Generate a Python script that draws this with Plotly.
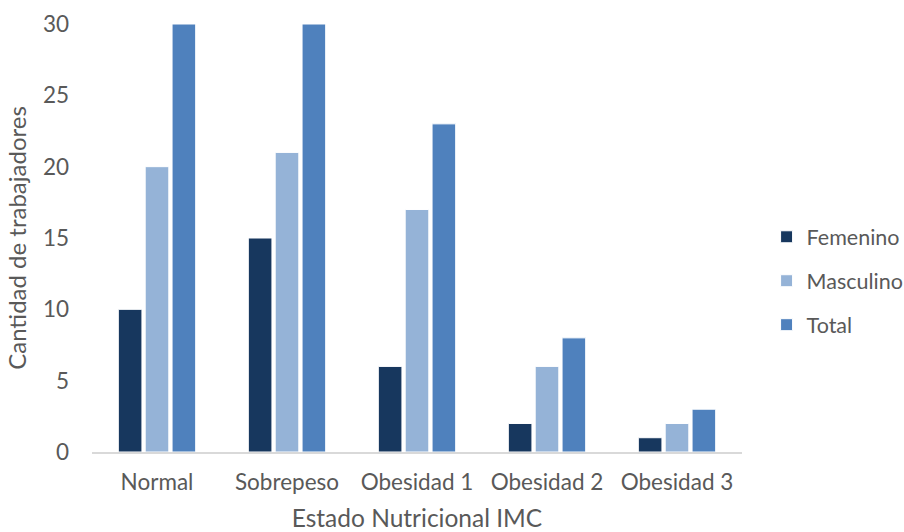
import plotly.graph_objects as go

categories = ["Normal", "Sobrepeso", "Obesidad 1", "Obesidad 2", "Obesidad 3"]
femenino = [10, 15, 6, 2, 1]
masculino = [20, 21, 17, 6, 2]
total = [30, 30, 23, 8, 3]

series = [("Femenino", femenino, "#17375E"),
          ("Masculino", masculino, "#95B3D7"),
          ("Total", total, "#4F81BD")]

fig = go.Figure()
for i, (name, vals, col) in enumerate(series):
    fig.add_trace(go.Bar(x=categories, y=vals, name=name, legendgroup=str(i),
                         marker=dict(color=col, line=dict(color="white", width=1))))

font_family = "Lato, 'Open Sans', sans-serif"
fig.update_layout(
    width=904, height=532,
    margin=dict(l=92, r=162, t=24, b=80, autoexpand=False),
    plot_bgcolor="white", paper_bgcolor="white",
    barmode="group", bargap=0.38, bargroupgap=0.12,
    font=dict(family=font_family, size=22.5, color="#595959"),
    legend=dict(x=0.848, y=0.40, xref="container", xanchor="left", yanchor="middle",
                traceorder="grouped", tracegroupgap=13, itemwidth=30,
                font=dict(size=21.5, color="#595959")),
    xaxis=dict(showline=True, linecolor="#D9D9D9", linewidth=1.5,
               ticks="", showgrid=False, ticklabelstandoff=9, automargin=False,
               title=dict(text="Estado Nutricional IMC", standoff=17,
                          font=dict(size=24.5, color="#595959"))),
    yaxis=dict(range=[0, 30], dtick=5, showgrid=False, zeroline=False,
               showline=False, ticks="", ticklabelstandoff=22, automargin=False,
               title=dict(text="Cantidad de trabajadores", standoff=9,
                          font=dict(size=24, color="#595959"))),
)
fig.write_html("out.html", config={"displayModeBar": False},
               post_script="document.body.style.margin='0';document.body.style.overflow='hidden';")
